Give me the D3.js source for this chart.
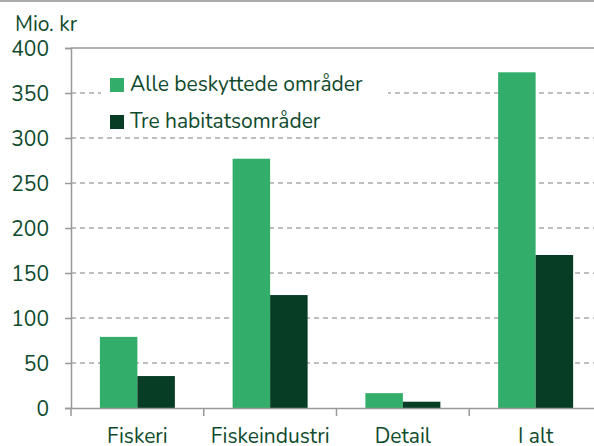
<!DOCTYPE html>
<html>
<head>
<meta charset="utf-8">
<script src="https://cdn.jsdelivr.net/npm/d3@7"></script>
<style>
  body { margin: 0; background: #fff; }
  text { font-family: "Nunito", Lato, "Noto Sans", sans-serif; fill: #0e4a2c; }
</style>
</head>
<body>
<div id="chart"></div>
<script>
// data
const categories = ["Fiskeri", "Fiskeindustri", "Detail", "I alt"];
const seriesNames = ["Alle beskyttede områder", "Tre habitatsområder"];
const alleValues = [79, 277, 16.5, 373];
const treValues = [35.5, 125.5, 7, 170];
const yTicks = [0, 50, 100, 150, 200, 250, 300, 350, 400];
const colors = ["#33ae6a", "#073d24"];

let W = 594, H = 446;
let margin = {top: 48, right: -8, bottom: 38, left: 71},
    width = W - margin.left - margin.right,
    height = H - margin.top - margin.bottom;

let root = d3.select("#chart").append("svg")
  .attr("width", W).attr("height", H);

// top separator line
root.append("line")
  .attr("x1", 0).attr("x2", W).attr("y1", 1).attr("y2", 1)
  .attr("stroke", "#aaa").attr("stroke-width", 2);

let svg = root.append("g")
  .attr("transform", "translate(" + margin.left + "," + margin.top + ")");

let x = d3.scaleBand().domain(categories).range([0, width]);
let x1 = d3.scaleBand().domain(seriesNames).range([0, x.bandwidth()]).paddingInner(0).paddingOuter(0.77);
let y = d3.scaleLinear().domain([0, 400]).range([height, 0]);

// gridlines
svg.append("g").selectAll("line")
  .data(yTicks.filter(d => d > 0))
  .join("line")
  .attr("x1", 0).attr("x2", width)
  .attr("y1", d => y(d)).attr("y2", d => y(d))
  .attr("stroke", d => d === 400 ? "#999" : "#aaa")
  .attr("stroke-width", 1.3)
  .attr("stroke-dasharray", d => d === 400 ? null : "5 4");

// bars
let groups = svg.append("g").selectAll("g")
  .data(categories)
  .join("g")
  .attr("transform", d => "translate(" + x(d) + ",0)");

groups.selectAll("rect")
  .data((d, i) => [
    {s: seriesNames[0], v: alleValues[i], c: colors[0]},
    {s: seriesNames[1], v: treValues[i], c: colors[1]}
  ])
  .join("rect")
  .attr("x", d => x1(d.s))
  .attr("width", x1.bandwidth())
  .attr("y", d => y(d.v))
  .attr("height", d => height - y(d.v))
  .attr("fill", d => d.c);

// y axis
let yAxis = svg.append("g")
  .call(d3.axisLeft(y).tickValues(yTicks).tickSize(6).tickPadding(4));
yAxis.select(".domain").attr("stroke", "#999").attr("stroke-width", 1.5);
yAxis.selectAll(".tick line").attr("stroke", "#999").attr("stroke-width", 1.5);
yAxis.selectAll(".tick text")
  .style("font-size", "21px")
  .attr("x", -22)
  .attr("dy", "0.36em")
  .style("fill", "#0e4a2c");

// x axis
let xAxis = svg.append("g")
  .attr("transform", "translate(0," + height + ")")
  .call(d3.axisBottom(x).tickSize(0).tickPadding(20));
xAxis.select(".domain").attr("stroke", "#999").attr("stroke-width", 1.5);
xAxis.selectAll(".tick text").style("font-size", "21px").style("fill", "#0e4a2c");
// category separators
xAxis.selectAll(".sep")
  .data(categories)
  .join("line")
  .attr("class", "sep")
  .attr("x1", d => x(d)).attr("x2", d => x(d))
  .attr("y1", 0).attr("y2", 8)
  .attr("stroke", "#999").attr("stroke-width", 1.5);

// unit label
root.append("text")
  .attr("x", 15).attr("y", 31)
  .style("font-size", "21px")
  .text("Mio. kr");

// legend
let legend = svg.append("g").attr("transform", "translate(30,18)");
legend.append("rect")
  .attr("x", 0).attr("y", 0).attr("width", 287).attr("height", 70)
  .attr("fill", "#fff");
seriesNames.forEach(function(name, i) {
  legend.append("rect")
    .attr("x", 9).attr("y", 12 + i * 37)
    .attr("width", 14).attr("height", 14)
    .attr("fill", colors[i]);
  legend.append("text")
    .attr("x", 29).attr("y", 25 + i * 37)
    .style("font-size", "21px")
    .text(name);
});
</script>
</body>
</html>
